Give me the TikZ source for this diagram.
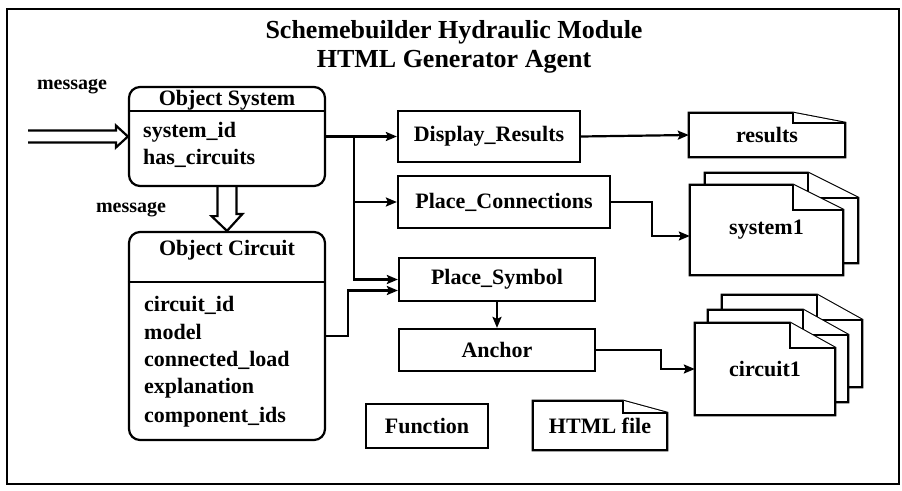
\documentclass[tikz,border=0pt]{standalone}
\usepackage{fontspec}
\setmainfont{Liberation Serif}
\usetikzlibrary{arrows.meta,calc,backgrounds}

% outline of a file sheet with a folded corner
\newcommand{\docsheet}[3]{%
  \draw[sheetline] (#1.south west) -- (#1.north west) -- ([xshift=-#2]#1.north east)
    -- ([yshift=-#3]#1.north east) -- (#1.south east) -- cycle;
  \draw[sheetline] ([xshift=-#2]#1.north east) -- ([xshift=-#2,yshift=-#3]#1.north east)
    -- ([yshift=-#3]#1.north east);
}

\begin{document}
\begin{tikzpicture}
[
    x=1pt, y=-1pt,
    boxline/.style={line width=2.2pt},
    func/.style={draw, boxline, inner sep=0pt, font=\fontsize{22}{26}\bfseries},
    obj/.style={draw, boxline, rounded corners=11pt, inner sep=0pt},
    objhead/.style={inner sep=0pt, font=\fontsize{22}{26}\bfseries},
    attr/.style={anchor=west, inner sep=0pt, font=\fontsize{22}{26}\bfseries},
    msg/.style={inner sep=0pt, font=\fontsize{20}{24}\bfseries},
    sheet/.style={inner sep=0pt, font=\fontsize{22}{26}\bfseries},
    sheetline/.style={boxline, fill=white, line join=miter},
    flow/.style={boxline, -{Stealth[length=11pt,width=9pt,inset=2pt]}},
]
\useasboundingbox (0,0) rectangle (902,490);
\draw[line width=2.4pt] (7,9) rectangle (899,484);

\node[align=center, font=\fontsize{26}{29}\bfseries] (title) at (454,47)
    {Schemebuilder Hydraulic Module\\HTML Generator Agent};

% objects
\node[obj, minimum width=196, minimum height=99] (sys) at (227,136.5) {};
\node[obj, minimum width=196, minimum height=208] (circ) at (227,336) {};
\draw[boxline] ([yshift=-25pt]sys.north west) -- ([yshift=-25pt]sys.north east);
\draw[boxline] ([yshift=-51pt]circ.north west) -- ([yshift=-51pt]circ.north east);
\node[objhead] (systitle) at (227,100) {Object System};
\node[objhead] (circtitle) at (227,250) {Object Circuit};
\node[attr] (sysid) at (143,132) {system\_id};
\node[attr] (hascirc) at (143,158) {has\_circuits};
\node[attr] (circid) at (144,305) {circuit\_id};
\node[attr] (model) at (144,332) {model};
\node[attr] (conload) at (144,360) {connected\_load};
\node[attr] (expl) at (144,388) {explanation};
\node[attr] (compids) at (144,417) {component\_ids};

\node[msg] (msgsys) at (72,87) {message};
\node[msg] (msgcirc) at (131,210) {message};
\coordinate (msgin) at (28,136.5);

% functions
\node[func, minimum width=182, minimum height=51] (disp) at (489,136.5) {Display\_Results};
\node[func, minimum width=212, minimum height=52] (conn) at (504,202) {Place\_Connections};
\node[func, minimum width=196, minimum height=43] (sym) at (497,279.5) {Place\_Symbol};
\node[func, minimum width=196, minimum height=42] (anch) at (497,350) {Anchor};
\node[func, minimum width=122, minimum height=44] (fn) at (427,426) {Function};

% html files
\node[sheet, minimum width=156, minimum height=44] (res) at (767,135) {results};
\node[sheet, minimum width=153, minimum height=90] (sys1) at (766.5,230) {system1};
\node[sheet, minimum width=153, minimum height=90] (sys1back) at ($(sys1)+(15,-12)$) {};
\node[sheet, minimum width=140, minimum height=92] (cir1) at (765,369) {circuit1};
\node[sheet, minimum width=140, minimum height=92] (cir1mid) at ($(cir1)+(13,-13)$) {};
\node[sheet, minimum width=140, minimum height=92] (cir1back) at ($(cir1)+(27,-28)$) {};
\node[sheet, minimum width=134, minimum height=49] (html) at (600,425.5) {HTML file};
\begin{scope}[on background layer]
\docsheet{res}{52}{10}
\docsheet{sys1back}{50}{25}
\docsheet{sys1}{50}{25}
\docsheet{cir1back}{45}{25}
\docsheet{cir1mid}{45}{25}
\docsheet{cir1}{45}{25}
\docsheet{html}{44}{12}
\end{scope}

% messages
\draw[boxline] ($(msgin)+(0,-6)$) -- ($(sys.west)+(-12,-6)$) -- ++(0,-5) -- (sys.west)
    -- ++(-12,11) -- ++(0,-5) -- ($(msgin)+(0,6)$);
\draw[boxline] ($(sys.south)+(-9.5,0)$) -- ++(0,29) -- ++(-6,0) -- (circ.north)
    -- ++(15.5,-17) -- ++(-6,0) -- ($(sys.south)+(9.5,0)$);

% connectors
\coordinate (split) at (354,136.5);
\draw[flow] (sys.east) -- (disp.west);
\draw[flow] (split) |- (conn.west);
\draw[flow] (split) |- (sym.west);
\draw[flow] (circ.east) -- ++(22,0) |- ([yshift=-11pt]sym.west);
\draw[flow] (sym.south) -- (anch.north);
\draw[flow] (disp.east) -- (res.west);
\draw[flow] (conn.east) -- ++(41,0) |- ([yshift=-6pt]sys1.west);
\draw[flow] (anch.east) -- ++(65,0) |- (cir1.west);
\end{tikzpicture}
\end{document}
